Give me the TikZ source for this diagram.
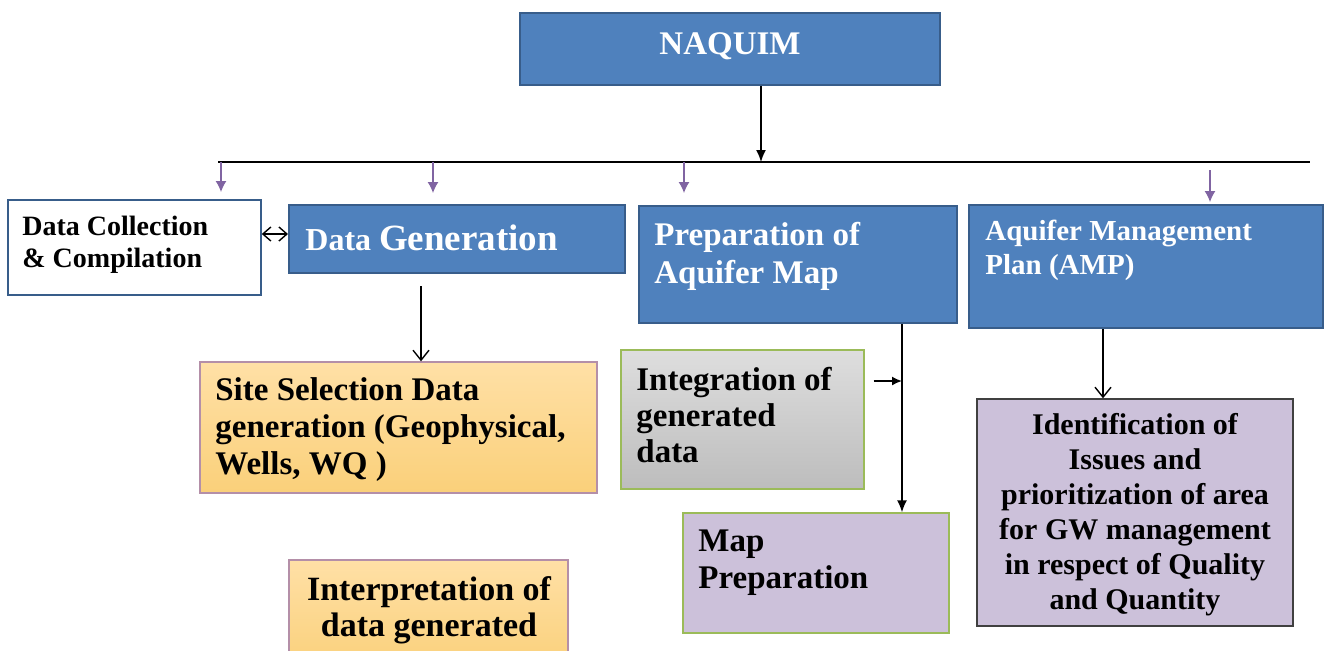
\documentclass[tikz,border=0pt]{standalone}
\usepackage{fontspec}
\setmainfont{Liberation Serif}
\usetikzlibrary{arrows.meta,fit}

\definecolor{boxblue}{HTML}{4F81BD}
\definecolor{edgeblue}{HTML}{385D8A}
\definecolor{linkpurple}{HTML}{8064A2}
\definecolor{lilac}{HTML}{CCC1DA}
\definecolor{leafgreen}{HTML}{9BBB59}
\definecolor{peachtop}{HTML}{FFE0A6}
\definecolor{peachbot}{HTML}{FAD07A}
\definecolor{mauve}{HTML}{B48FA8}

\tikzset{
	bluebox/.style={draw=edgeblue, line width=1pt, fill=boxblue, inner sep=0pt},
	plainbox/.style={draw=edgeblue, line width=0.8pt, fill=white, inner sep=0pt},
	peachbox/.style={draw=mauve, line width=0.7pt, top color=peachtop, bottom color=peachbot, inner sep=0pt},
	greybox/.style={draw=leafgreen, line width=0.7pt, top color=black!13, bottom color=black!26, inner sep=0pt},
	lilacbox/.style={draw=leafgreen, line width=0.7pt, fill=lilac, inner sep=0pt},
	txt/.style={anchor=north west, inner sep=0pt, align=left, font=\bfseries\fontsize{16.5}{18.5}\selectfont},
	feed/.style={draw=linkpurple, line width=0.6pt, -{Latex[length=5.5pt,width=5.5pt]}},
	link/.style={line width=0.7pt, -{Straight Barb[length=5pt,width=8pt]}},
	push/.style={line width=0.8pt, -{Latex[length=6pt,width=5pt]}}
}

\begin{document}
\begin{tikzpicture}[x=0.5pt, y=-0.5pt]
		\useasboundingbox (0,0) rectangle (1324,650);
		
		% bus line
		\coordinate (busL) at (218,162);
		\coordinate (busR) at (1310,162);
		\coordinate (hub) at (761,162);
		\draw[line width=1pt] (busL) -- (busR);
		
		% top level
		\node[bluebox, fit={(520,13) (940,85)}] (naquim) {};
		\node[txt, anchor=base, text=white, font=\bfseries\fontsize{16.5}{20}\selectfont] (naquimtext) at (730,54) {NAQUIM};
		\draw[push] (naquim.south -| hub) -- (hub);
		
		% second level
		\node[plainbox, fit={(8,200) (261,295)}] (collect) {};
		\node[txt, font=\bfseries\fontsize{14}{16}\selectfont] (collecttext) at (22,216) {Data Collection\\\& Compilation};
		
		\node[bluebox, fit={(289,205) (625,273)}] (gen) {};
		\node[txt, text=white] (gentext) at (305,224) {\fontsize{16}{18}\selectfont Data \fontsize{18.5}{20}\selectfont Generation};
		
		\node[bluebox, fit={(639,206) (957,323)}] (prep) {};
		\node[txt, text=white, font=\bfseries\fontsize{16.5}{19}\selectfont] (preptext) at (654,222) {Preparation of\\Aquifer Map};
		
		\node[bluebox, fit={(969,205) (1323,328)}] (amp) {};
		\node[txt, text=white, font=\bfseries\fontsize{14.5}{17}\selectfont] (amptext) at (985,220) {Aquifer Management\\Plan (AMP)};
		
		\draw[feed] (221,162) -- (221,192);
		\draw[feed] (433,162) -- (433,193);
		\draw[feed] (684,162) -- (684,193);
		\draw[feed] (1210,170) -- (1210,202);
		
		\draw[line width=0.7pt, {Straight Barb[length=4pt,width=7pt]}-{Straight Barb[length=4pt,width=7pt]}] (collect.east |- 0,234) -- (gen.west |- 0,234);
		
		% third level
		\node[peachbox, fit={(200,362) (597,493)}] (site) {};
		\node[txt] (sitetext) at (215,377) {Site Selection Data\\generation (Geophysical,\\Wells, WQ )};
		\draw[link, shorten <=6pt] (gen.south -| 421,0) -- (site.north -| 421,0);
		
		\node[greybox, fit={(621,350) (864,489)}] (integ) {};
		\node[txt, font=\bfseries\fontsize{16.5}{18}\selectfont] (integtext) at (636,367) {Integration of\\generated\\data};
		
		\node[lilacbox, fit={(683,513) (949,633)}] (mapprep) {};
		\node[txt] (mapreptext) at (698,529) {Map\\Preparation};
		
		\coordinate (drop) at (prep.south -| 902,0);
		\draw[push] (drop) -- (mapprep.north -| drop);
		\draw[push, -{Latex[length=5pt,width=4.5pt]}, shorten <=4.5pt] (integ.east |- 0,381) -- (drop |- 0,381);
		
		\node[peachbox, fit={(289,560) (568,670)}] (interp) {};
		\node[txt, anchor=north, align=center, font=\bfseries\fontsize{17}{18}\selectfont] (interptext) at (429,576) {Interpretation of\\data generated};
		
		\node[lilacbox, draw=black!75, fit={(977,399) (1293,626)}] (ident) {};
		\node[txt, anchor=north, align=center, font=\bfseries\fontsize{15}{17.5}\selectfont] (identtext) at (1135,413) {Identification of\\Issues and\\prioritization of area\\for GW management\\in respect of Quality\\and Quantity};
		\draw[link] (amp.south -| 1103,0) -- (ident.north -| 1103,0);
		
	\end{tikzpicture}
\end{document}
